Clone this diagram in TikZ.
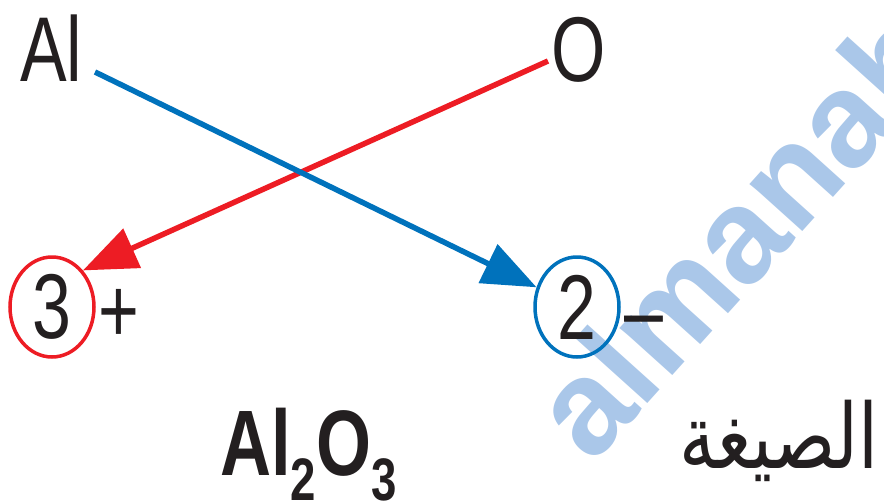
\documentclass[tikz,border=0pt]{standalone}
\usepackage{fontspec}
\usepackage{graphicx}
\newfontfamily\condfont[FakeStretch=0.76]{Liberation Sans}
\newfontfamily\markfont{Liberation Sans}
\newfontfamily\arabicfont[Script=Arabic,FakeStretch=0.8]{DejaVu Sans}
\TeXXeTstate=1
\usetikzlibrary{arrows.meta,shapes.geometric}

\definecolor{ink}{RGB}{35,31,32}
\definecolor{redline}{RGB}{237,28,36}
\definecolor{blueline}{RGB}{0,114,188}
\definecolor{markblue}{RGB}{170,199,233}

\newcommand{\chemsub}[1]{\raisebox{-25pt}{\fontsize{60}{60}\selectfont #1}}

\begin{document}
\begin{tikzpicture}[
    x=1pt,y=-1pt,
    elem/.style={
        inner sep=0pt,
        text=ink,
        font=\condfont\fontsize{92}{96}\selectfont
    },
    charge/.style={
        elem,
        ellipse,
        line width=3.5pt,
        minimum width=84pt,
        minimum height=100pt
    },
    bond/.style={
        line width=5.5pt,
        -{Triangle[length=54pt,width=42pt]}
    },
    watermark/.style={
        inner sep=0pt,
        text=markblue,
        font=\markfont\bfseries\fontsize{134}{134}\selectfont
    }
]

% -----------------------------------------------------------------------------
% Frame and watermark
% -----------------------------------------------------------------------------
\useasboundingbox (0,0) rectangle (884,501);
\begin{scope}
    \clip (0,0) rectangle (884,501);
    \node[watermark, rotate=48, anchor=base west] (mark) at (592,466) {almanahj};
\end{scope}

% -----------------------------------------------------------------------------
% Elements and charges
% -----------------------------------------------------------------------------
\node[elem, anchor=base west] (Al) at (20,81) {Al};
\node[elem, anchor=base] (O) at (579,81) {O};

\node[charge, draw=redline] (three) at (52,307) {3};
\node[elem, anchor=base] (plus) at (119,342) {+};
\node[charge, draw=blueline] (two) at (577,307) {2};
\node[elem, anchor=base] (minus) at (644,342) {–};

\coordinate (redstart) at (548,61);
\coordinate (bluestart) at (95,72);

\draw[bond, draw=redline, fill=redline] (redstart) -- (three.north east);
\draw[bond, draw=blueline, fill=blueline] (bluestart) -- (two);

% -----------------------------------------------------------------------------
% Formula
% -----------------------------------------------------------------------------
\node[elem, font=\condfont\bfseries\fontsize{93}{96}\selectfont, anchor=base west]
    (formula) at (220,475) {Al\chemsub{2}O\chemsub{3}};
\node[anchor=base east, text=ink, font=\arabicfont\fontsize{90}{96}\selectfont]
    (label) at (882,468) {\beginR الصيغة\endR};

\end{tikzpicture}
\end{document}
